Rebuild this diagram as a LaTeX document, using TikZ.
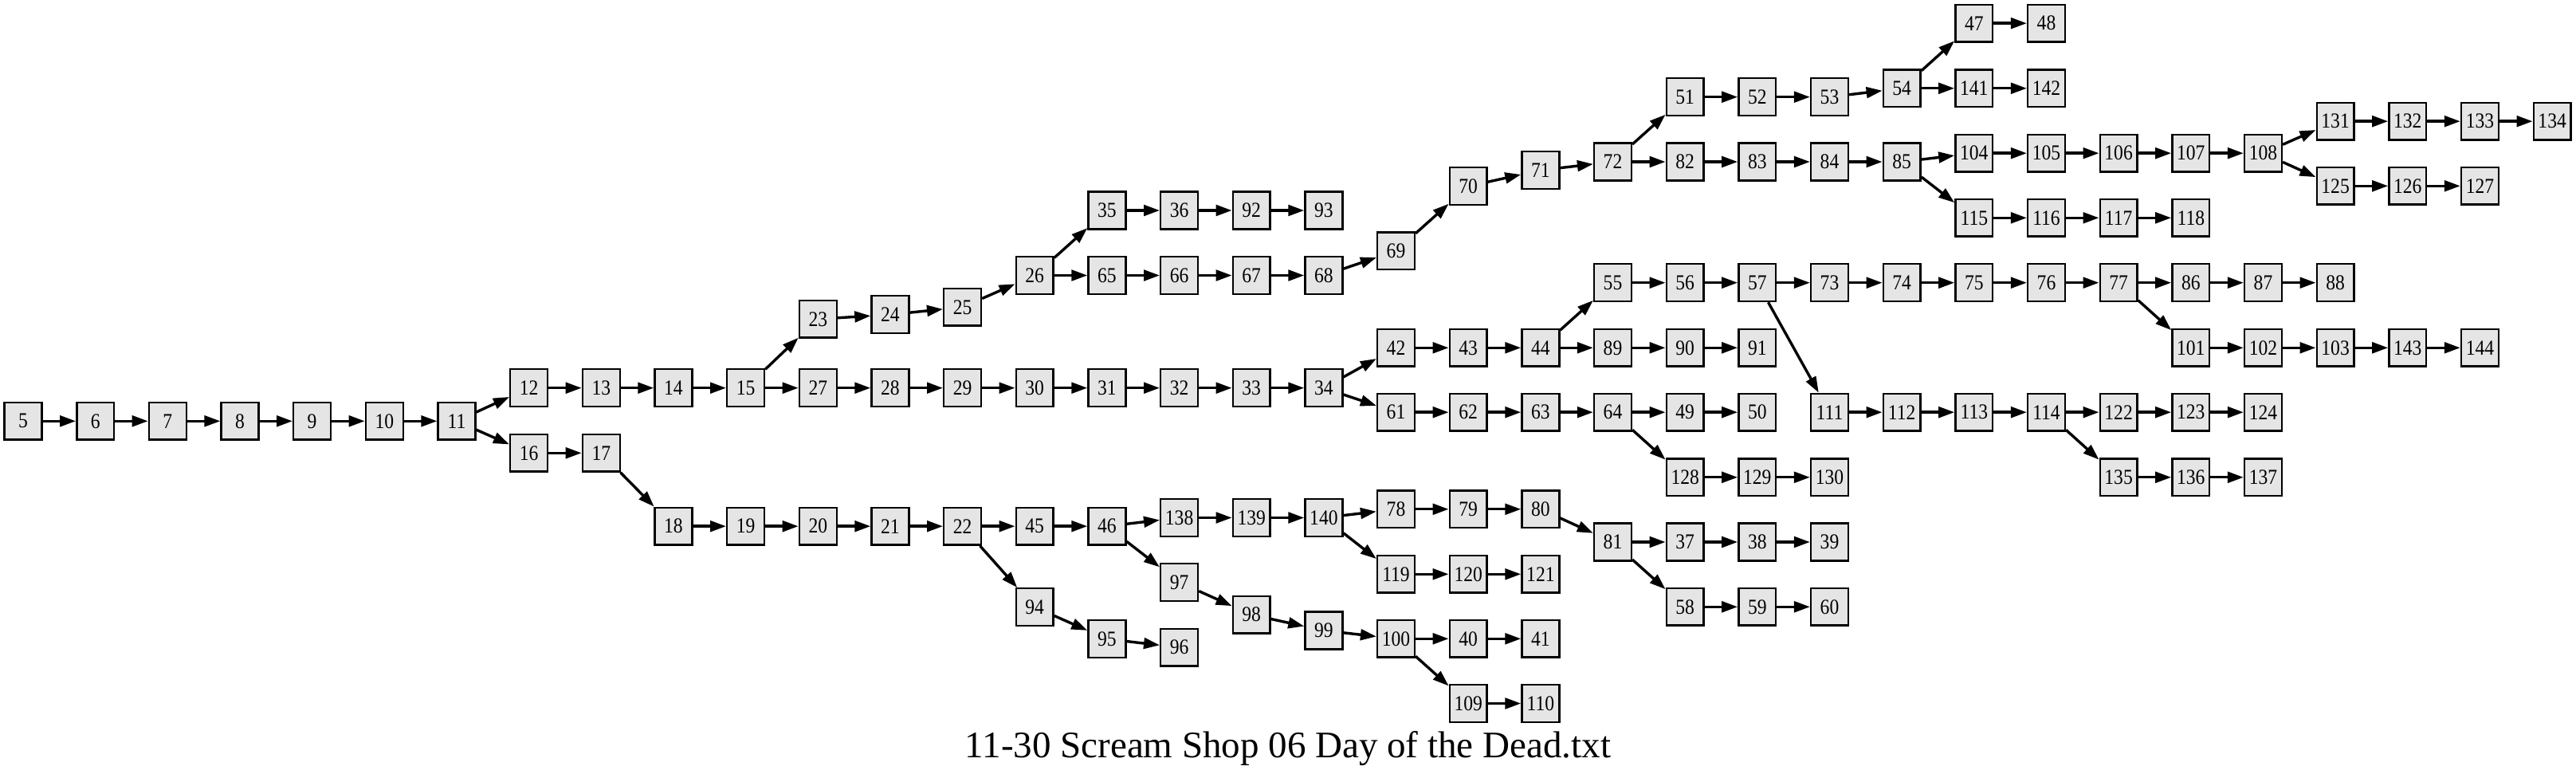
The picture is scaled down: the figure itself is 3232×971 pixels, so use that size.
\documentclass[tikz,border=0pt]{standalone}
\usepackage{fontspec}
\setmainfont{Liberation Serif}
\newfontfamily\nodefont[FakeStretch=0.88]{Liberation Serif}
\usetikzlibrary{arrows.meta}
\definecolor{boxgray}{RGB}{229,229,229}
\begin{document}
\begin{tikzpicture}[x=0.25pt,y=-0.25pt,
  box/.style={draw=black,fill=boxgray,line width=0.6pt,minimum width=11.7pt,minimum height=11.7pt,inner sep=0pt,font=\nodefont\fontsize{6.7}{7}\selectfont},
  edge/.style={line width=0.85pt,-{Triangle[length=5pt,width=3.4pt]}}]
\useasboundingbox (0,0) rectangle (3232,971);
\foreach \n/\x/\y in {
5/29.0/528.3, 6/119.7/528.3, 7/210.3/528.3, 8/301.0/528.3, 9/391.6/528.3, 10/482.3/528.3, 11/573.0/528.3,
12/663.6/486.7, 16/663.6/568.3,
13/754.3/486.7, 17/754.3/568.3,
14/844.9/486.7, 18/844.9/660.2,
15/935.6/486.7, 19/935.6/660.2,
23/1026.3/400.3, 27/1026.3/486.7, 20/1026.3/660.2,
24/1116.9/394.7, 28/1116.9/486.7, 21/1116.9/660.2,
25/1207.6/385.3, 29/1207.6/486.7, 22/1207.6/660.2,
26/1298.2/345.5, 30/1298.2/486.7, 45/1298.2/660.2, 94/1298.2/761.7,
35/1388.9/264, 65/1388.9/345.5, 31/1388.9/486.7, 46/1388.9/660.2, 95/1388.9/801.7,
36/1479.6/264, 66/1479.6/345.5, 32/1479.6/486.7, 138/1479.6/649.5, 97/1479.6/730.5, 96/1479.6/812.2,
92/1570.2/264, 67/1570.2/345.5, 33/1570.2/486.7, 139/1570.2/649.5, 98/1570.2/771.2,
93/1660.9/264, 68/1660.9/345.5, 34/1660.9/486.7, 140/1660.9/649.5, 99/1660.9/791,
69/1751.5/314.8, 42/1751.5/436.3, 61/1751.5/517.2, 78/1751.5/638.8, 119/1751.5/720.3, 100/1751.5/801.3,
70/1842.2/233.7, 43/1842.2/436.3, 62/1842.2/517.2, 79/1842.2/638.8, 120/1842.2/720.3, 40/1842.2/801.3, 109/1842.2/882.5,
71/1932.9/213.5, 44/1932.9/436.3, 63/1932.9/517.2, 80/1932.9/638.8, 121/1932.9/720.3, 41/1932.9/801.3, 110/1932.9/882.5,
72/2023.5/203, 55/2023.5/354.7, 89/2023.5/436.3, 64/2023.5/517.2, 81/2023.5/680,
51/2114.2/121.7, 82/2114.2/203, 56/2114.2/354.7, 90/2114.2/436.3, 49/2114.2/517.2, 128/2114.2/598.8, 37/2114.2/680, 58/2114.2/761.3,
52/2204.8/121.7, 83/2204.8/203, 57/2204.8/354.7, 91/2204.8/436.3, 50/2204.8/517.2, 129/2204.8/598.8, 38/2204.8/680, 59/2204.8/761.3,
53/2295.5/121.7, 84/2295.5/203, 73/2295.5/354.7, 111/2295.5/517.2, 130/2295.5/598.8, 39/2295.5/680, 60/2295.5/761.3,
54/2386.2/110.8, 85/2386.2/203, 74/2386.2/354.7, 112/2386.2/517.2,
47/2476.8/29.2, 141/2476.8/110.8, 104/2476.8/192.2, 115/2476.8/273.3, 75/2476.8/354.7, 113/2476.8/517.2,
48/2567.5/29.2, 142/2567.5/110.8, 105/2567.5/192.2, 116/2567.5/273.3, 76/2567.5/354.7, 114/2567.5/517.2,
106/2658.1/192.2, 117/2658.1/273.3, 77/2658.1/354.7, 122/2658.1/517.2, 135/2658.1/598.8,
107/2748.8/192.2, 118/2748.8/273.3, 86/2748.8/354.7, 101/2748.8/436.3, 123/2748.8/517.2, 136/2748.8/598.8,
108/2839.5/192.2, 87/2839.5/354.7, 102/2839.5/436.3, 124/2839.5/517.2, 137/2839.5/598.8,
131/2930.1/152.2, 125/2930.1/233.3, 88/2930.1/354.7, 103/2930.1/436.3,
132/3020.8/152.2, 126/3020.8/233.3, 143/3020.8/436.3,
133/3111.4/152.2, 127/3111.4/233.3, 144/3111.4/436.3,
134/3202.1/152.2}
  \node[box] (n\n) at (\x,\y) {\n};
\foreach \a/\b in {
5/6, 6/7, 7/8, 8/9, 9/10, 10/11, 11/12, 11/16, 12/13, 13/14, 14/15, 15/23, 15/27,
23/24, 24/25, 25/26, 26/35, 26/65, 35/36, 36/92, 92/93,
65/66, 66/67, 67/68, 68/69, 69/70, 70/71, 71/72, 72/51, 72/82,
51/52, 52/53, 53/54, 54/47, 54/141, 47/48, 141/142,
82/83, 83/84, 84/85, 85/104, 85/115, 104/105, 105/106, 106/107, 107/108,
108/131, 108/125, 131/132, 132/133, 133/134, 125/126, 126/127,
115/116, 116/117, 117/118,
27/28, 28/29, 29/30, 30/31, 31/32, 32/33, 33/34, 34/42, 34/61,
42/43, 43/44, 44/55, 44/89, 55/56, 56/57, 57/73, 57/111,
73/74, 74/75, 75/76, 76/77, 77/86, 86/87, 87/88,
77/101, 101/102, 102/103, 103/143, 143/144,
89/90, 90/91, 61/62, 62/63, 63/64, 64/49, 49/50, 64/128, 128/129, 129/130,
111/112, 112/113, 113/114, 114/122, 122/123, 123/124, 114/135, 135/136, 136/137,
16/17, 17/18, 18/19, 19/20, 20/21, 21/22, 22/45, 22/94, 45/46, 46/138, 46/97,
138/139, 139/140, 140/78, 140/119, 78/79, 79/80, 80/81, 81/37, 37/38, 38/39,
81/58, 58/59, 59/60, 119/120, 120/121, 97/98, 98/99, 99/100, 100/40, 40/41,
100/109, 109/110, 94/95, 95/96}
  \draw[edge] (n\a) -- (n\b);
\node[anchor=base,font=\fontsize{11.75}{14}\selectfont,inner sep=0pt] (title) at (1616,950) {11-30 Scream Shop 06 Day of the Dead.txt};
\end{tikzpicture}
\end{document}
